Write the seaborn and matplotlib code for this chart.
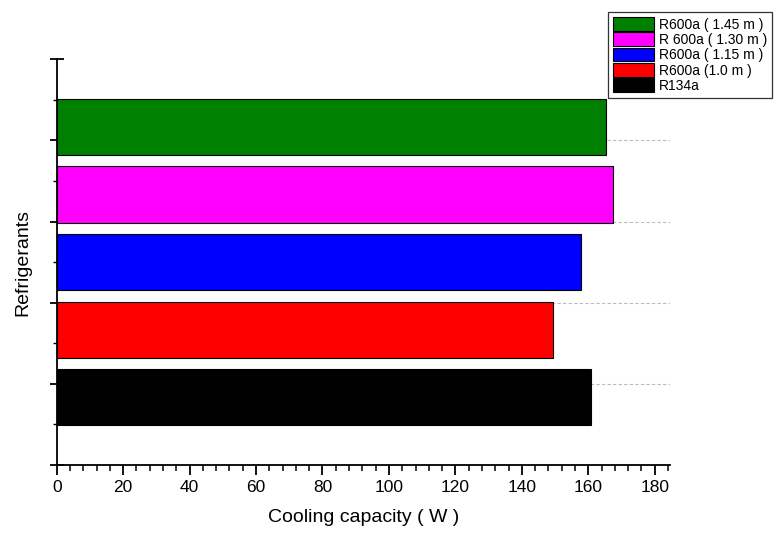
import matplotlib
matplotlib.use("Agg")
import matplotlib.pyplot as plt
from matplotlib.ticker import MultipleLocator
import seaborn as sns
import pandas as pd

# data, top to bottom
labels = ["R600a ( 1.45 m )", "R 600a ( 1.30 m )", "R600a ( 1.15 m )",
          "R600a (1.0 m )", "R134a"]
capacity = [165.3, 167.4, 157.8, 149.3, 160.8]
position = [5, 4, 3, 2, 1]
colors = ["#008000", "#ff00ff", "#0000ff", "#ff0000", "#000000"]

df = pd.DataFrame({"label": labels, "capacity": capacity, "pos": position})

sns.set_style("ticks")
plt.rcParams["font.family"] = ["Liberation Sans", "DejaVu Sans"]
plt.rcParams["text.color"] = "black"
plt.rcParams["axes.labelcolor"] = "black"
plt.rcParams["xtick.color"] = "black"
plt.rcParams["ytick.color"] = "black"

fig = plt.figure(figsize=(7.74, 5.33), dpi=100)
ax = fig.add_axes([0.0733, 0.1276, 0.7923, 0.7611])

sns.barplot(data=df, x="capacity", y="pos", hue="label", hue_order=labels,
            palette=colors, saturation=1, orient="h", native_scale=True,
            dodge=False, width=0.83, edgecolor="black", linewidth=0.8,
            ax=ax, zorder=3)

ax.set_xlim(0, 184.6)
ax.set_ylim(0, 6)

# dashed guide lines at the major y ticks
for yv in [1.2, 2.4, 3.6, 4.8]:
    ax.axhline(yv, color="#bbbbbb", lw=0.8, ls=(0, (3, 2)), zorder=1)

ax.xaxis.set_major_locator(MultipleLocator(20))
ax.xaxis.set_minor_locator(MultipleLocator(4))
ax.yaxis.set_major_locator(MultipleLocator(1.2))
ax.yaxis.set_minor_locator(MultipleLocator(0.6))
ax.set_yticklabels([])

ax.tick_params(axis="x", which="major", direction="out", length=7, width=1.3,
               labelsize=12.5, pad=4)
ax.tick_params(axis="x", which="minor", direction="out", length=4, width=1.1)
ax.tick_params(axis="y", which="major", direction="inout", length=10, width=1.3)
ax.tick_params(axis="y", which="minor", direction="out", length=3, width=1.0)

sns.despine(ax=ax)
for s in ["left", "bottom"]:
    ax.spines[s].set_linewidth(1.3)
    ax.spines[s].set_color("black")

ax.set_xlabel("Cooling capacity ( W )", fontsize=14, labelpad=10)
ax.set_ylabel("Refrigerants", fontsize=14, labelpad=10)

leg = ax.legend(loc="upper right", bbox_to_anchor=(0.997, 0.977),
                bbox_transform=fig.transFigure, fontsize=10, frameon=True,
                fancybox=False, edgecolor="#333333", framealpha=1,
                handlelength=3.0, handleheight=1.15, labelspacing=0.05,
                borderpad=0.35, handletextpad=0.3, borderaxespad=0)
leg.get_frame().set_linewidth(0.9)

fig.savefig("out.png", dpi=100)
